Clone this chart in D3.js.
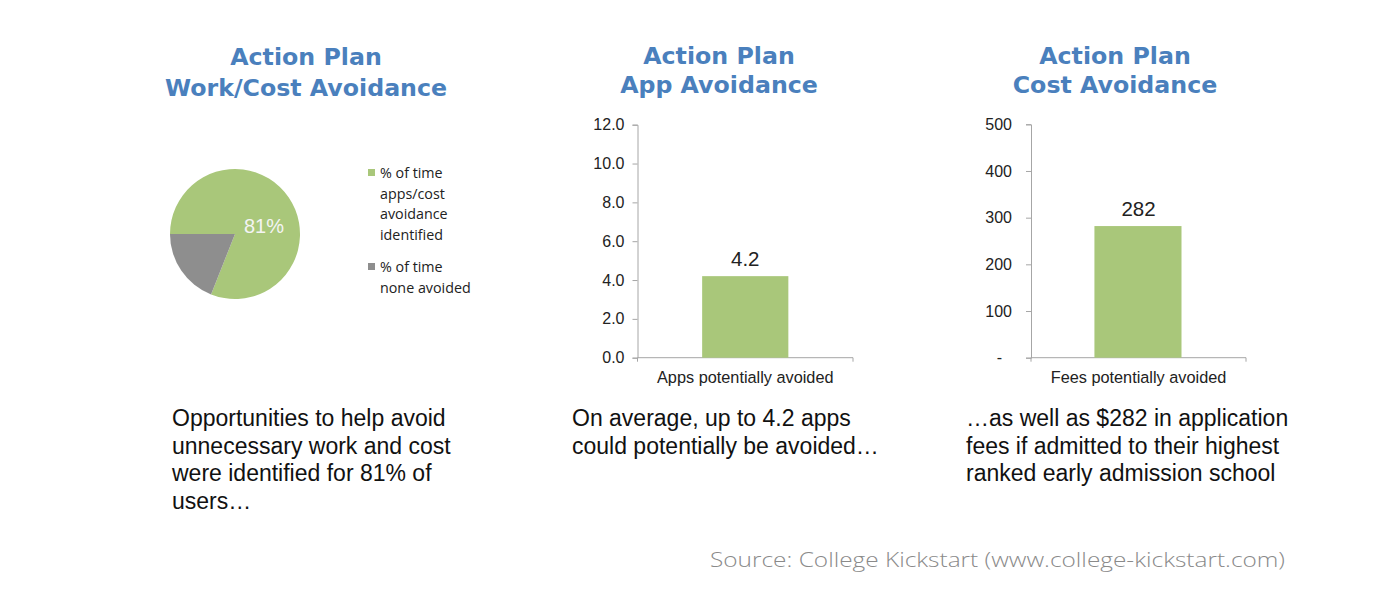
<!DOCTYPE html>
<html><head><meta charset="utf-8">
<script src="https://cdn.jsdelivr.net/npm/d3@7"></script>
<style>body{margin:0;background:#fff}svg{display:block}</style>
</head><body><svg id="c" width="1380" height="616"></svg>
<script>
// ---- data ----
const pieLabels = ["% of time apps/cost avoidance identified", "% of time none avoided"];
const pieValues = [81, 19];
const appCategories = ["Apps potentially avoided"];
const appValues = [4.2];
const appTicks = [0, 2, 4, 6, 8, 10, 12];
const feeCategories = ["Fees potentially avoided"];
const feeValues = [282];
const feeTicks = [0, 100, 200, 300, 400, 500];
const titles = [["Action Plan", "Work/Cost Avoidance"], ["Action Plan", "App Avoidance"], ["Action Plan", "Cost Avoidance"]];
const captions = [
  ["Opportunities to help avoid", "unnecessary work and cost", "were identified for 81% of", "users…"],
  ["On average, up to 4.2 apps", "could potentially be avoided…"],
  ["…as well as $282 in application", "fees if admitted to their highest", "ranked early admission school"]
];
const legendLines = [["% of time", "apps/cost", "avoidance", "identified"], ["% of time", "none avoided"]];
const source = "Source: College Kickstart (www.college-kickstart.com)";

const GREEN = "#a9c77a", GRAY = "#8e8e8e", BLUE = "#4a80bd", AXIS = "#a6a6a6";
const svg = d3.select("#c");

// titles
const titleX = [306, 719, 1115];
titles.forEach((t, i) => {
  svg.append("text").attr("x", titleX[i]).attr("y", i === 0 ? 65 : 64)
    .attr("text-anchor", "middle").attr("fill", BLUE)
    .style("font", "bold 23.7px 'DejaVu Sans', sans-serif")
    .selectAll("tspan").data(t).join("tspan")
    .attr("x", titleX[i]).attr("dy", (d, j) => j ? (i === 0 ? 31 : 29) : 0).text(d => d);
});

// captions
const capX = [172, 572, 966];
captions.forEach((c, i) => {
  svg.append("text").attr("y", 426).attr("fill", "#111")
    .style("font", "23px 'Liberation Sans', Arial, sans-serif")
    .selectAll("tspan").data(c).join("tspan")
    .attr("x", capX[i]).attr("dy", (d, j) => j ? 27.7 : 0).text(d => d);
});

// source
svg.append("text").attr("x", 710).attr("y", 567)
  .attr("textLength", 575).attr("lengthAdjust", "spacingAndGlyphs")
  .attr("fill", "#8a8a8a").style("font", "300 19.5px 'Open Sans', sans-serif").text(source);

// ---- pie ----
const pieG = svg.append("g").attr("transform", "translate(235,234)");
const pie = d3.pie().sort(null).startAngle(-Math.PI / 2).endAngle(1.5 * Math.PI);
const arcs = pie(pieValues);
const arc = d3.arc().innerRadius(0).outerRadius(65);
pieG.selectAll("path").data(arcs).join("path")
  .attr("d", arc).attr("fill", (d, i) => i ? GRAY : GREEN);
pieG.append("text").attr("x", 29).attr("y", -1).attr("text-anchor", "middle")
  .attr("fill", "#f4f4f4").style("font", "20px 'Liberation Sans', Arial, sans-serif")
  .text(pieValues[0] + "%");

// legend
const legY = [178, 272];
legendLines.forEach((lines, i) => {
  svg.append("rect").attr("x", 368).attr("y", legY[i] - 9).attr("width", 7).attr("height", 7)
    .attr("fill", i ? GRAY : GREEN);
  svg.append("text").attr("y", legY[i]).attr("fill", "#222")
    .style("font", "14.3px 'Open Sans', sans-serif")
    .selectAll("tspan").data(lines).join("tspan")
    .attr("x", 380).attr("dy", (d, j) => j ? 20.5 : 0).text(d => d);
});

// ---- bar charts ----
function barChart(opts) {
  const {x0, x1, yTop, yBot, cats, vals, ticks, fmt, valFmt, barL, barR, pad, zeroDx} = opts;
  const g = svg.append("g");
  const y = d3.scaleLinear().domain([ticks[0], ticks[ticks.length - 1]]).range([yBot, yTop]);
  const x = d3.scaleBand().domain(cats).range([x0, x1]).paddingInner(0).paddingOuter(0);
  const yAx = g.append("g").attr("transform", `translate(${x0},0)`)
    .call(d3.axisLeft(y).tickValues(ticks).tickFormat(fmt).tickSize(5).tickPadding(pad));
  yAx.select(".domain").attr("stroke", AXIS);
  yAx.selectAll(".tick line").attr("stroke", AXIS);
  yAx.selectAll(".tick text").attr("fill", "#222").style("font", "16px 'Liberation Sans', Arial, sans-serif")
    .attr("dx", d => d === 0 ? zeroDx : 0);
  const xAx = g.append("g").attr("transform", `translate(0,${yBot})`)
    .call(d3.axisBottom(x).tickSize(0).tickPadding(14));
  xAx.select(".domain").attr("stroke", AXIS).attr("d", `M${x0},4V0H${x1}V4`);
  xAx.selectAll(".tick text").attr("fill", "#222").style("font", "16.3px 'Liberation Sans', Arial, sans-serif");
  const bw = x.bandwidth();
  g.selectAll("rect.bar").data(cats).join("rect").attr("class", "bar")
    .attr("x", d => x(d) + bw * barL).attr("width", bw * (barR - barL))
    .attr("y", (d, i) => y(vals[i])).attr("height", (d, i) => yBot - y(vals[i]))
    .attr("fill", GREEN);
  g.selectAll("text.val").data(cats).join("text").attr("class", "val")
    .attr("x", d => x(d) + bw / 2).attr("y", (d, i) => y(vals[i]) - 10)
    .attr("text-anchor", "middle").attr("fill", "#222")
    .style("font", "20.5px 'Liberation Sans', Arial, sans-serif")
    .text((d, i) => valFmt(vals[i]));
}
barChart({x0: 637.5, x1: 853, yTop: 124.7, yBot: 357.7, cats: appCategories, vals: appValues,
  ticks: appTicks, fmt: d3.format(".1f"), valFmt: d3.format(".1f"), barL: 0.30, barR: 0.70, pad: 8, zeroDx: 0});
barChart({x0: 1031, x1: 1246, yTop: 124.3, yBot: 357.7, cats: feeCategories, vals: feeValues,
  ticks: feeTicks, fmt: d => d === 0 ? "-" : d3.format("d")(d), valFmt: d3.format("d"), barL: 0.295, barR: 0.70, pad: 14, zeroDx: -10});
</script></body></html>
